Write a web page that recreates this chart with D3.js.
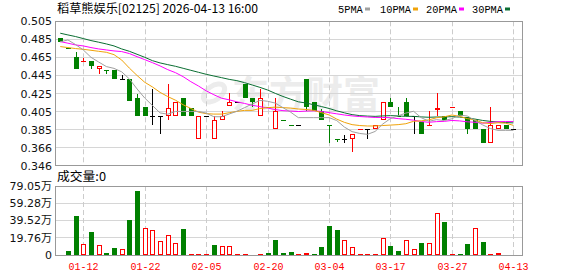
<!DOCTYPE html>
<html><head><meta charset="utf-8">
<script src="https://cdn.jsdelivr.net/npm/d3@7/dist/d3.min.js"></script>
<style>html,body{margin:0;padding:0;background:#fff}svg{display:block}</style>
</head><body>
<script>
// ---------- DATA ----------
const title = "稻草熊娱乐[02125] 2026-04-13 16:00";
const dates = ["01-07","01-08","01-09","01-12","01-13","01-14","01-15","01-16","01-19","01-20",
"01-21","01-22","01-23","01-26","01-27","01-28","01-29","01-30","02-02","02-05",
"02-06","02-09","02-10","02-11","02-12","02-13","02-16","02-20","02-23","02-24",
"02-25","02-26","02-27","03-02","03-03","03-04","03-05","03-06","03-09","03-10",
"03-11","03-12","03-13","03-17","03-18","03-19","03-20","03-23","03-24","03-25",
"03-26","03-27","03-30","03-31","04-01","04-02","04-08","04-09","04-10","04-13"];
const open  = [.487,.476,.466,.461,.461,.452,.451,.451,.442,.442,.421,.411,.401,.401,.401,.401,.421,.410,.376,.401,
.376,.396,.412,.416,.436,.421,.401,.411,.386,.396,.391,.391,.442,.416,.406,.391,.375,.375,.376,.386,
.386,.386,.396,.416,.401,.416,.401,.394,.391,.407,.401,.411,.406,.400,.396,.386,.371,.386,.391,.386];
const high  = [.487,.476,.471,.465,.461,.456,.451,.451,.446,.442,.425,.411,.431,.401,.436,.416,.421,.410,.401,.401,
.401,.406,.426,.416,.436,.421,.431,.411,.421,.396,.391,.391,.442,.416,.408,.391,.375,.380,.381,.386,
.386,.391,.416,.421,.411,.421,.401,.394,.406,.426,.401,.411,.406,.400,.396,.386,.411,.391,.391,.386];
const low   = [.482,.476,.452,.461,.452,.447,.447,.442,.442,.417,.401,.401,.391,.381,.396,.401,.401,.401,.376,.401,
.376,.396,.412,.416,.421,.411,.401,.411,.386,.396,.391,.391,.406,.406,.396,.371,.372,.371,.361,.386,
.376,.386,.396,.411,.401,.401,.381,.381,.391,.401,.396,.411,.401,.381,.386,.371,.371,.386,.386,.386];
const close = [.482,.476,.452,.461,.456,.456,.451,.442,.442,.417,.401,.401,.401,.401,.410,.416,.401,.401,.401,.401,
.396,.401,.416,.416,.421,.416,.421,.411,.406,.396,.391,.391,.411,.406,.396,.391,.375,.375,.381,.386,
.386,.391,.416,.411,.401,.401,.401,.381,.391,.410,.396,.411,.401,.386,.386,.371,.391,.391,.386,.386];
// volume in 万 shares
const volume = [0,5.0,44.7,12.2,26.7,11.5,2.3,8.0,6.5,40.1,73.3,30.5,28.6,16.0,22.5,13.7,29.8,1.1,1.7,0.8,
11.5,9.9,9.9,0.8,0.8,0,0.8,2.3,17.2,2.3,3.4,0.8,1.9,1.1,8.8,33.2,28.6,17.2,8.8,0.8,
0.8,0.8,19.1,10.3,5.0,17.2,6.5,13.7,13.7,48.1,38.2,1.1,1.1,12.6,30.5,14.9,0.8,2.3,0,0];
const ma5 = [.4823,.4845,.4794,.4735,.4654,.4602,.4552,.4532,.4494,.4416,.4306,.4206,.4124,.4042,.4028,.4058,.4058,.4058,.4058,.4040,
.4000,.4000,.4030,.4060,.4100,.4140,.4180,.4170,.4150,.4100,.4050,.3990,.3990,.3990,.3990,.3990,.3958,.3886,.3836,.3816,
.3806,.3838,.3920,.3980,.4010,.4040,.4060,.3990,.3950,.3968,.3958,.3978,.4018,.4008,.3960,.3910,.3870,.3850,.3850,.3850];
const ma10 = [.4772,.4761,.4750,.4742,.4731,.4720,.4709,.4683,.4624,.4535,.4454,.4379,.4328,.4268,.4222,.4182,.4132,.4091,.4050,.4034,
.4029,.4029,.4044,.4059,.4070,.4070,.4090,.4100,.4105,.4100,.4095,.4085,.4080,.4070,.4045,.4020,.3974,.3938,.3913,.3903,
.3898,.3898,.3903,.3908,.3913,.3923,.3949,.3955,.3965,.3989,.3999,.4019,.4004,.3979,.3964,.3934,.3924,.3934,.3929,.3905];
const ma20 = [.4827,.4809,.4790,.4779,.4761,.4746,.4735,.4724,.4717,.4695,.4661,.4628,.4595,.4559,.4518,.4485,.4441,.4386,.4338,.4285,
.4242,.4204,.4186,.4164,.4146,.4126,.4111,.4096,.4078,.4067,.4062,.4057,.4062,.4065,.4058,.4045,.4032,.4019,.4009,.4002,
.3997,.3992,.3992,.3989,.3979,.3972,.3962,.3947,.3939,.3946,.3949,.3959,.3954,.3944,.3939,.3929,.3937,.3945,.3947,.3947];
const ma30 = [.4919,.4900,.4882,.4860,.4838,.4820,.4801,.4779,.4746,.4720,.4687,.4654,.4617,.4592,.4573,.4555,.4533,.4511,.4489,.4467,
.4448,.4430,.4411,.4397,.4375,.4349,.4323,.4294,.4257,.4223,.4193,.4164,.4151,.4132,.4112,.4091,.4065,.4043,.4023,.4012,
.4007,.4004,.4009,.4012,.4009,.4004,.4004,.3998,.3994,.3997,.3997,.4001,.3996,.3986,.3974,.3959,.3949,.3942,.3936,.3932];
const priceTickLabels = ["0.505","0.485","0.465","0.445","0.425","0.405","0.385","0.366","0.346"];
const volTickLabels = ["79.05万","59.28万","39.52万","19.76万","0"];
const labelDates = ["01-12","01-22","02-05","02-20","03-04","03-17","03-27","04-13"];
const maNames = ["5PMA","10PMA","20PMA","30PMA"];
const latestVolume = "0";

// ---------- LAYOUT ----------
const W = 578, H = 276;
const L = 55, R = 522, PT = 21.3, PB = 165.8, VT = 186, VB = 255;
const C = {red:"#ff0000", green:"#008000", black:"#000000", grid:"#d6d6d6", frame:"#999999",
  ma:["#a0a0a0","#f0a30a","#ff00ff","#0a6e32"]};
const crisp = v => Math.floor(v) + 0.5;

const svg = d3.select("body").append("svg").attr("width", W).attr("height", H)
  .style("font-family", "'Noto Sans CJK SC', sans-serif");

const x = d3.scaleBand().domain(dates).range([56.4, 517.2]);
const cx = i => Math.round(x(dates[i]) + x.bandwidth() / 2);
const yP = d3.scaleLinear().domain([0.346, 0.505]).range([PB, PT]);
const yV = d3.scaleLinear().domain([0, 79.05]).range([VB, VT]);

// watermark
svg.append("text").attr("x", 232).attr("y", 108).text("东方财富")
  .attr("font-size", 38).attr("font-weight", "bold").attr("fill", "#ececec")
  .attr("textLength", 148).attr("lengthAdjust", "spacingAndGlyphs");
svg.append("ellipse").attr("cx", 214).attr("cy", 93).attr("rx", 12).attr("ry", 7)
  .attr("transform", "rotate(-35 214 93)").attr("fill", "none").attr("stroke", "#ececec").attr("stroke-width", 5);

// ---------- GRID ----------
const pStep = (0.505 - 0.346) / 8;
const pTicks = priceTickLabels.map((_, k) => 0.505 - k * pStep);
const g = svg.append("g");
pTicks.forEach((t, k) => {
  if (k > 0 && k < pTicks.length - 1)
    g.append("line").attr("x1", L).attr("x2", R).attr("y1", crisp(yP(t))).attr("y2", crisp(yP(t)))
      .attr("stroke", C.grid);
});
const vTicks = volTickLabels.map((_, k) => 79.05 * (4 - k) / 4);
vTicks.forEach((t, k) => {
  if (k > 0 && k < vTicks.length - 1)
    g.append("line").attr("x1", L).attr("x2", R).attr("y1", crisp(yV(t))).attr("y2", crisp(yV(t)))
      .attr("stroke", C.grid);
});
labelDates.forEach(d => {
  const i = dates.indexOf(d);
  const xx = cx(i) + 0.5;
  [[PT, PB], [VT, VB]].forEach(([a, b]) =>
    g.append("line").attr("x1", xx).attr("x2", xx).attr("y1", a).attr("y2", b)
      .attr("stroke", "#cccccc").attr("stroke-dasharray", "5,3"));
});

// ---------- CANDLES ----------
const cg = svg.append("g");
dates.forEach((d, i) => {
  const o = open[i], c = close[i], h = high[i], l = low[i];
  let col;
  if (c > o) col = C.red; else if (c < o) col = C.green;
  else { const pc = i > 0 ? close[i - 1] : c; col = c > pc ? C.red : (c < pc ? C.green : C.black); }
  const X = cx(i);
  if (h > l) cg.append("line").attr("x1", X + 0.5).attr("x2", X + 0.5)
    .attr("y1", Math.round(yP(h))).attr("y2", Math.round(yP(l))).attr("stroke", col);
  const yo = Math.round(yP(o)), yc = Math.round(yP(c));
  if (c === o) {
    cg.append("line").attr("x1", X - 2).attr("x2", X + 3).attr("y1", yo + 0.5).attr("y2", yo + 0.5).attr("stroke", col);
  } else if (c < o) {
    cg.append("rect").attr("x", X - 2).attr("y", yo).attr("width", 5).attr("height", Math.max(1, yc - yo)).attr("fill", col);
  } else {
    cg.append("rect").attr("x", X - 1.5).attr("y", yc + 0.5).attr("width", 4).attr("height", Math.max(1, yo - yc - 1))
      .attr("fill", "#fff").attr("stroke", col);
  }
});

// ---------- MA LINES ----------
const line = d3.line().x((d, i) => x(dates[i]) + x.bandwidth() / 2).y(d => yP(d));
[ma30, ma20, ma10, ma5].forEach((s, k) => {
  svg.append("path").attr("d", line(s)).attr("fill", "none")
    .attr("stroke", C.ma[3 - k]).attr("stroke-width", 1);
});

// ---------- VOLUME ----------
const vg = svg.append("g");
volume.forEach((v, i) => {
  if (v <= 0) return;
  const up = i === 0 ? true : close[i] >= close[i - 1];
  const X = cx(i);
  const top = Math.round(yV(v));
  if (up) {
    vg.append("rect").attr("x", X - 1.5).attr("y", top + 0.5).attr("width", 4)
      .attr("height", Math.max(0.5, VB - top - 1)).attr("fill", "#fff").attr("stroke", C.red);
  } else {
    vg.append("rect").attr("x", X - 2).attr("y", top).attr("width", 5).attr("height", Math.max(1, VB - top)).attr("fill", C.green);
  }
});

// ---------- FRAMES ----------
svg.append("rect").attr("x", L + 0.5).attr("y", crisp(PT)).attr("width", R - L).attr("height", crisp(PB) - crisp(PT))
  .attr("fill", "none").attr("stroke", C.frame);
svg.append("rect").attr("x", L + 0.5).attr("y", VT + 0.5).attr("width", R - L).attr("height", VB - VT)
  .attr("fill", "none").attr("stroke", C.frame);

// ---------- AXIS LABELS ----------
pTicks.forEach((t, k) => {
  svg.append("text").attr("x", 52).attr("y", yP(t)).attr("dy", "0.36em").attr("text-anchor", "end")
    .attr("font-family", "'DejaVu Sans', sans-serif").attr("font-size", 11).attr("fill", "#111")
    .text(priceTickLabels[k]);
});
vTicks.forEach((t, k) => {
  svg.append("text").attr("x", 52).attr("y", yV(t)).attr("dy", "0.36em").attr("text-anchor", "end")
    .attr("font-family", "'DejaVu Sans', 'Noto Sans CJK SC', sans-serif").attr("font-size", 11).attr("fill", "#111")
    .text(volTickLabels[k]);
});
labelDates.forEach(d => {
  const i = dates.indexOf(d);
  svg.append("text").attr("x", cx(i) + 0.5).attr("y", 270).attr("text-anchor", "middle")
    .attr("font-family", "'Liberation Mono', monospace").attr("font-size", 11).attr("fill", C.red)
    .attr("textLength", 30).attr("lengthAdjust", "spacingAndGlyphs").text(d);
});

// ---------- TITLE / LEGEND ----------
svg.append("text").attr("x", 57).attr("y", 13).attr("font-size", 12).attr("fill", "#000")
  .attr("textLength", 201).attr("lengthAdjust", "spacingAndGlyphs").text(title);
const legX = [338, 380, 426, 472], sqX = [365, 413, 459, 505];
maNames.forEach((n, k) => {
  svg.append("text").attr("x", legX[k]).attr("y", 12.5).attr("font-family", "'Liberation Mono', monospace")
    .attr("font-size", 11).attr("fill", "#000").attr("textLength", n.length * 6.2)
    .attr("lengthAdjust", "spacingAndGlyphs").text(n);
  svg.append("rect").attr("x", sqX[k]).attr("y", 7.5).attr("width", 5).attr("height", 3).attr("fill", C.ma[k]);
});
svg.append("text").attr("x", 57).attr("y", 181).attr("font-size", 12).attr("fill", "#000")
  .attr("textLength", 49).attr("lengthAdjust", "spacingAndGlyphs").text("成交量:" + latestVolume);
</script>
</body></html>
